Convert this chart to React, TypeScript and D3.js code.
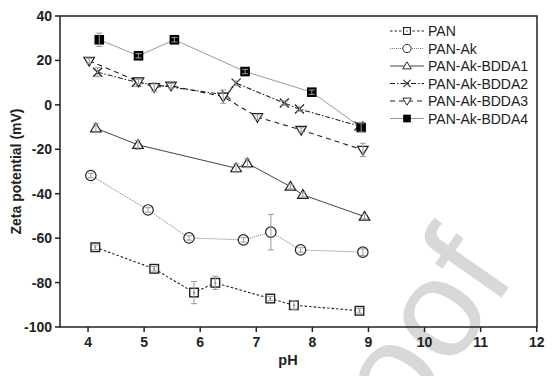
import React from "react";
import * as d3 from "d3";

const W = 553, H = 376;
const M = { left: 60, right: 16, top: 16, bottom: 49 };

const xTicks = [4, 5, 6, 7, 8, 9, 10, 11, 12];
const yTicks = [40, 20, 0, -20, -40, -60, -80, -100];

const seriesNames = ["PAN", "PAN-Ak", "PAN-Ak-BDDA1", "PAN-Ak-BDDA2", "PAN-Ak-BDDA3", "PAN-Ak-BDDA4"];

const panX = [4.13, 5.18, 5.89, 6.27, 7.25, 7.67, 8.84];
const panY = [-64.1, -73.8, -84.5, -80.1, -87.2, -90.2, -92.7];
const panE = [1, 1, 5, 3, 1, 2, 1];

const akX = [4.05, 5.07, 5.8, 6.77, 7.26, 7.79, 8.9];
const akY = [-31.8, -47.3, -59.9, -60.8, -57.3, -65.3, -66.3];
const akE = [1, 1, 1, 1, 8, 1, 1.5];

const b1X = [4.14, 4.89, 6.64, 6.84, 7.61, 7.83, 8.93];
const b1Y = [-10.5, -18.0, -28.5, -26.3, -36.8, -40.5, -50.3];
const b1E = [2, 2, 2, 2, 1, 1, 1];

const b2X = [4.17, 4.86, 6.46, 6.64, 7.5, 7.77, 8.83];
const b2Y = [14.7, 10.2, 4.5, 9.8, 0.8, -1.9, -9.5];
const b2E = [2, 2, 1, 1, 1, 1, 1.5];

const b3X = [4.02, 4.9, 5.18, 5.48, 6.41, 7.02, 7.8, 8.9];
const b3Y = [19.8, 10.5, 7.9, 8.6, 3.7, -5.5, -11.3, -20.3];
const b3E = [1, 1, 2, 1, 3, 1, 1, 3];

const b4X = [4.2, 4.9, 5.54, 6.8, 7.99, 8.87];
const b4Y = [29.3, 22.1, 29.3, 15.0, 5.7, -10.2];
const b4E = [3, 1, 1, 1, 1, 2];

type Marker = "sqOpen" | "circle" | "triUp" | "cross" | "triDown" | "sqFill";

const styles: { dash: string; color: string; width: number; marker: Marker }[] = [
  { dash: "2.5,2", color: "#222", width: 1.1, marker: "sqOpen" },
  { dash: "1,1", color: "#777", width: 1, marker: "circle" },
  { dash: "", color: "#444", width: 1, marker: "triUp" },
  { dash: "5,2,1.5,2", color: "#222", width: 1.1, marker: "cross" },
  { dash: "5,4", color: "#222", width: 1.1, marker: "triDown" },
  { dash: "", color: "#999", width: 1, marker: "sqFill" },
];

const xs = [panX, akX, b1X, b2X, b3X, b4X];
const ys = [panY, akY, b1Y, b2Y, b3Y, b4Y];
const es = [panE, akE, b1E, b2E, b3E, b4E];

function MarkerShape({ m, x, y }: { m: Marker; x: number; y: number }) {
  const s = 4.3;
  switch (m) {
    case "sqOpen":
      return <g><rect x={x - s} y={y - s} width={2 * s} height={2 * s} fill="white" stroke="#222" strokeWidth={1.4} /><rect x={x - 0.8} y={y - 0.8} width={1.6} height={1.6} fill="#444" /></g>;
    case "circle":
      return <circle cx={x} cy={y} r={5.2} fill="white" stroke="#222" strokeWidth={1.2} />;
    case "triUp":
      return <path d={`M${x},${y - 5.2}L${x + 5.3},${y + 3.6}L${x - 5.3},${y + 3.6}Z`} fill="white" stroke="#222" strokeWidth={1.2} />;
    case "triDown":
      return <path d={`M${x},${y + 5.2}L${x + 5.3},${y - 3.6}L${x - 5.3},${y - 3.6}Z`} fill="white" stroke="#222" strokeWidth={1.2} />;
    case "cross":
      return <path d={`M${x - 4.5},${y - 4.5}L${x + 4.5},${y + 4.5}M${x + 4.5},${y - 4.5}L${x - 4.5},${y + 4.5}`} stroke="#222" strokeWidth={1.3} />;
    case "sqFill":
      return <rect x={x - 4.8} y={y - 4.8} width={9.6} height={9.6} fill="#000" />;
  }
}

export default function App() {
  const x = d3.scaleLinear().domain([3.5, 12]).range([M.left, W - M.right - 0.3]);
  const y = d3.scaleLinear().domain([-100, 40]).range([H - M.bottom, M.top]);
  const line = d3.line<[number, number]>().x(d => x(d[0])).y(d => y(d[1]));
  const font = "Arial, 'Liberation Sans', sans-serif";
  const legX = 390, legY0 = 31, legDy = 17.5;

  return (
    <svg width={W} height={H} style={{ position: "absolute", left: 0, top: 0, background: "white" }} fontFamily={font}>
      <text x={0} y={0} transform="translate(325,550) rotate(-55)" fontSize={140} fill="#d8d8d8" fontFamily={font}>Proof</text>
      {/* frame */}
      <rect x={M.left} y={M.top} width={W - M.right - M.left} height={H - M.bottom - M.top} fill="none" stroke="#222" strokeWidth={1.5} />
      {/* ticks */}
      {xTicks.map(t => (
        <g key={"x" + t}>
          <line x1={x(t)} x2={x(t)} y1={y(-100)} y2={y(-100) + 5} stroke="#222" strokeWidth={1.5} />
          <text x={x(t)} y={y(-100) + 20} textAnchor="middle" fontSize={14} fontWeight="bold" fill="#222">{t}</text>
        </g>
      ))}
      {yTicks.map(t => (
        <g key={"y" + t}>
          <line x1={M.left - 5} x2={M.left} y1={y(t)} y2={y(t)} stroke="#222" strokeWidth={1.5} />
          <text x={M.left - 8} y={y(t) + 5} textAnchor="end" fontSize={14} fontWeight="bold" fill="#222">{t}</text>
        </g>
      ))}
      <text x={288} y={365} textAnchor="middle" fontSize={14.5} fontWeight="bold" fill="#222">pH</text>
      <text transform={`translate(21,${(M.top + H - M.bottom) / 2}) rotate(-90)`} textAnchor="middle" fontSize={14} fontWeight="bold" fill="#222">Zeta potential (mV)</text>
      {/* series */}
      {seriesNames.map((name, i) => {
        const st = styles[i];
        const pts = xs[i].map((v, j) => [v, ys[i][j]] as [number, number]);
        return (
          <g key={name}>
            <path d={line(pts) || ""} fill="none" stroke={st.color} strokeWidth={st.width} strokeDasharray={st.dash} />
            {pts.map((p, j) => (
              <MarkerShape key={j} m={st.marker} x={x(p[0])} y={y(p[1])} />
            ))}
            {pts.map((p, j) => {
              const e = es[i][j];
              const cx = x(p[0]);
              const y1 = y(p[1] + e), y2 = y(p[1] - e);
              return (
                <g key={"e" + j} stroke="#999" strokeWidth={1}>
                  <line x1={cx} x2={cx} y1={y1} y2={y2} />
                  <line x1={cx - 3} x2={cx + 3} y1={y1} y2={y1} />
                  <line x1={cx - 3} x2={cx + 3} y1={y2} y2={y2} />
                </g>
              );
            })}
          </g>
        );
      })}
      {/* legend */}
      {seriesNames.map((name, i) => {
        const st = styles[i];
        const ly = legY0 + i * legDy;
        return (
          <g key={"l" + name}>
            <line x1={legX} x2={legX + 34} y1={ly} y2={ly} stroke={st.color} strokeWidth={st.width} strokeDasharray={st.dash} />
            <g transform={`translate(${legX + 17},${ly}) scale(0.8) translate(${-(legX + 17)},${-ly})`}>
              <MarkerShape m={st.marker} x={legX + 17} y={ly} />
            </g>
            <text x={legX + 38} y={ly + 5} fontSize={14} fill="#222">{name}</text>
          </g>
        );
      })}
    </svg>
  );
}
